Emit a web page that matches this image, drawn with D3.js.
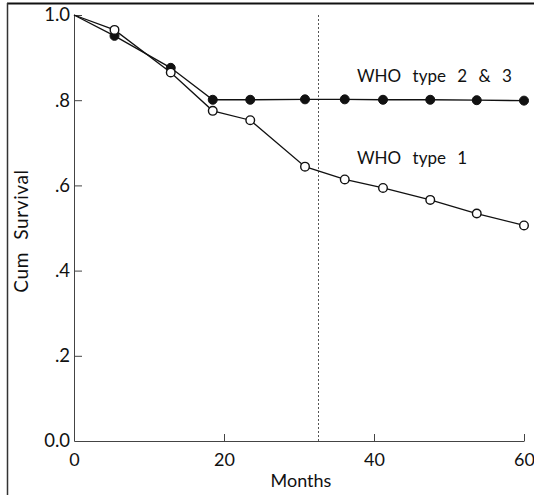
<!DOCTYPE html>
<html>
<head>
<meta charset="utf-8">
<script src="https://cdn.jsdelivr.net/npm/d3@7/dist/d3.min.js"></script>
<style>
  html, body { margin: 0; padding: 0; background: #fff; }
  svg { display: block; }
  text { font-family: Lato, "Open Sans", sans-serif; fill: #111; }
</style>
</head>
<body>
<svg id="chart" width="534" height="495"></svg>
<script>
// ---- data ----
const months = [0, 5.4, 12.9, 18.5, 23.5, 30.8, 36.1, 41.2, 47.5, 53.7, 60];
const who23 = [1.0, 0.951, 0.876, 0.801, 0.801, 0.802, 0.802, 0.801, 0.801, 0.800, 0.799];
const who1  = [1.0, 0.965, 0.865, 0.775, 0.753, 0.644, 0.614, 0.594, 0.566, 0.534, 0.506];
const seriesNames = ["WHO type 2 & 3", "WHO type 1"];
const xTicks = [0, 20, 40, 60];
const xTickLabels = ["0", "20", "40", "60"];
const yTicks = [0, 0.2, 0.4, 0.6, 0.8, 1.0];
const yTickLabels = ["0.0", ".2", ".4", ".6", ".8", "1.0"];
const cutoffMonth = [32.6];
const xTitle = "Months";
const yTitle = "Cum Survival";

// ---- layout ----
const svg = d3.select("#chart");
const x = d3.scaleLinear().domain([0, 60]).range([74, 524]);
const y = d3.scaleLinear().domain([0, 1]).range([441, 15]);

// frame (top + left border)
svg.append("line").attr("x1", 7).attr("x2", 534).attr("y1", 3.5).attr("y2", 3.5)
  .attr("stroke", "#111").attr("stroke-width", 2);
svg.append("line").attr("x1", 7.5).attr("x2", 7.5).attr("y1", 3).attr("y2", 495)
  .attr("stroke", "#333").attr("stroke-width", 1.5);

// axes
const xAxis = d3.axisBottom(x).tickValues(xTicks)
  .tickFormat((d, i) => xTickLabels[i]).tickSizeInner(-7).tickSizeOuter(0).tickPadding(12);
const gx = svg.append("g").attr("transform", `translate(0,${y(0)})`).call(xAxis);
gx.select(".domain").attr("stroke", "#444");
gx.selectAll(".tick line").attr("stroke", "#444");
gx.selectAll(".tick text").attr("font-size", 18).attr("fill", "#111")
  .style("font-family", "Lato, sans-serif");
gx.selectAll(".tick").filter(d => d === 0).select("line").remove();

const yAxis = d3.axisLeft(y).tickValues(yTicks)
  .tickFormat((d, i) => yTickLabels[i]).tickSizeInner(-8).tickSizeOuter(0).tickPadding(4);
const gy = svg.append("g").attr("transform", `translate(${x(0)},0)`).call(yAxis);
gy.select(".domain").attr("stroke", "#444");
gy.selectAll(".tick line").attr("stroke", "#444");
gy.selectAll(".tick text").attr("font-size", 18.5).attr("fill", "#111")
  .style("font-family", "Lato, sans-serif");
gy.selectAll(".tick").filter(d => d === 0).select("line").remove();

// titles
svg.append("text").attr("x", (x(0) + x(60)) / 2 + 2).attr("y", 487)
  .attr("text-anchor", "middle").attr("font-size", 18).text(xTitle);
svg.append("text").attr("transform", `translate(28,${(y(0) + y(1)) / 2 + 3}) rotate(-90)`)
  .attr("text-anchor", "middle").attr("font-size", 19).attr("word-spacing", 7)
  .attr("letter-spacing", 0.6).text(yTitle);

// dotted cutoff
svg.selectAll(".cut").data(cutoffMonth).enter().append("line")
  .attr("x1", d => x(d)).attr("x2", d => x(d)).attr("y1", y(1)).attr("y2", y(0))
  .attr("stroke", "#555").attr("stroke-width", 1).attr("stroke-dasharray", "2,2");

// lines
const line = d3.line().x(d => x(d[0])).y(d => y(d[1]));
const s23 = months.map((m, i) => [m, who23[i]]);
const s1 = months.map((m, i) => [m, who1[i]]);
svg.append("path").attr("d", line(s1)).attr("fill", "none").attr("stroke", "#111").attr("stroke-width", 1.3);
svg.append("path").attr("d", line(s23)).attr("fill", "none").attr("stroke", "#111").attr("stroke-width", 1.3);

// markers (no marker at origin)
svg.selectAll(".p23").data(s23.filter(d => d[0] > 0)).enter().append("circle")
  .attr("cx", d => x(d[0])).attr("cy", d => y(d[1])).attr("r", 4.5)
  .attr("fill", "#111").attr("stroke", "#111");
svg.selectAll(".p1").data(s1.filter(d => d[0] > 0)).enter().append("circle")
  .attr("cx", d => x(d[0])).attr("cy", d => y(d[1])).attr("r", 4.3)
  .attr("fill", "#fff").attr("stroke", "#111").attr("stroke-width", 1.4);

// series labels
svg.append("text").attr("x", 357).attr("y", 82).attr("font-size", 17)
  .attr("word-spacing", 7).text(seriesNames[0]);
svg.append("text").attr("x", 357).attr("y", 164).attr("font-size", 17)
  .attr("word-spacing", 7).text(seriesNames[1]);
</script>
</body>
</html>
